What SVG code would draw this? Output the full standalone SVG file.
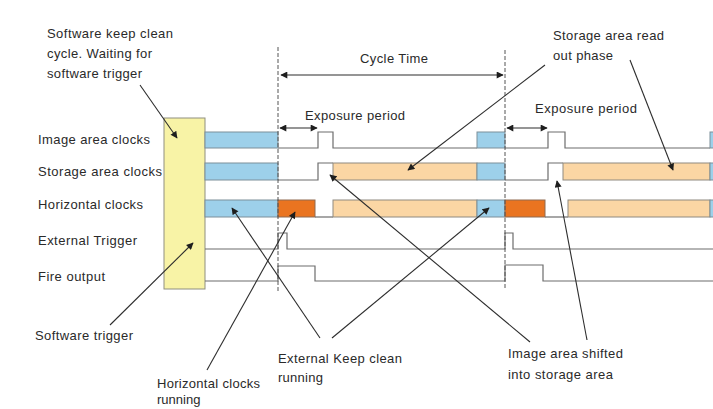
<svg xmlns="http://www.w3.org/2000/svg" width="713" height="409" viewBox="0 0 713 409">
<style>
text{font-family:"Liberation Sans",Arial,sans-serif;font-size:13px;fill:#2a2a2a}
.blue{fill:#9dd0ea;stroke:#7d8f9a;stroke-width:1}
.peach{fill:#fbd6a4;stroke:#8f8a80;stroke-width:1}
.orange{fill:#ea7420;stroke:#8f6a50;stroke-width:1}
.sig{fill:none;stroke:#6d6d6d;stroke-width:1.2}
.dash{fill:none;stroke:#555;stroke-width:1;stroke-dasharray:4,2}
.arr{fill:none;stroke:#2d2d2d;stroke-width:1.1;marker-end:url(#ah)}
.dim{fill:none;stroke:#2d2d2d;stroke-width:1.1;marker-start:url(#ah);marker-end:url(#ah)}
</style>
<defs>
<marker id="ah" viewBox="0 0 10 10" refX="9" refY="5" markerWidth="8" markerHeight="7" markerUnits="userSpaceOnUse" orient="auto-start-reverse">
<path d="M0,0 L10,5 L0,10 Z" fill="#1e1e1e"/>
</marker>
</defs>
<rect width="713" height="409" fill="#ffffff"/>

<g id="yellow-box">
<rect x="164" y="118" width="41" height="171" fill="#f8f3a6" stroke="#8f8f80" stroke-width="1"/>
</g>

<g id="row-labels">
<text x="38" y="143.5" textLength="112">Image area clocks</text>
<text x="38" y="175.5" textLength="124">Storage area clocks</text>
<text x="38" y="208.5" textLength="105">Horizontal clocks</text>
<text x="38" y="244.5" textLength="99">External Trigger</text>
<text x="38" y="280.5" textLength="67">Fire output</text>
</g>

<g id="label-sw-keep-clean">
<text x="47" y="38" textLength="126">Software keep clean</text>
<text x="47" y="58" textLength="105">cycle. Waiting for</text>
<text x="47" y="78" textLength="95">software trigger</text>
</g>

<g id="label-sw-trigger">
<text x="35" y="339.5" textLength="98">Software trigger</text>
</g>

<g id="label-cycle-time">
<text x="360" y="62.5" textLength="68">Cycle Time</text>
</g>

<g id="label-exposure-1">
<text x="305" y="119.5" textLength="100">Exposure period</text>
</g>

<g id="label-exposure-2">
<text x="535" y="112.5" textLength="102">Exposure period</text>
</g>

<g id="label-storage-readout">
<text x="553" y="39.5" textLength="111">Storage area read</text>
<text x="553" y="59.5" textLength="60">out phase</text>
</g>

<g id="label-horizontal-running">
<text x="157" y="388" textLength="103">Horizontal clocks</text>
<text x="157" y="404">running</text>
</g>

<g id="label-external-keep-clean">
<text x="278" y="362.5" textLength="124">External Keep clean</text>
<text x="278" y="381.5" textLength="45">running</text>
</g>

<g id="label-image-shifted">
<text x="508" y="357.5" textLength="115">Image area shifted</text>
<text x="508" y="378.5" textLength="105">into storage area</text>
</g>

<g id="row-image">
<rect class="blue" x="205" y="132" width="73" height="16"/>
<path class="sig" d="M278 148 H318 V132 H333 V148 H477"/>
<rect class="blue" x="477" y="132" width="28" height="16"/>
<path class="sig" d="M505 148 H548 V132 H565 V148 H710"/>
<rect class="blue" x="710" y="132" width="10" height="16"/>
</g>

<g id="row-storage">
<rect class="blue" x="205" y="163" width="73" height="17"/>
<path class="sig" d="M278 180 H318 V163 H333"/>
<rect class="peach" x="333" y="163" width="144" height="17"/>
<rect class="blue" x="477" y="163" width="28" height="17"/>
<path class="sig" d="M505 180 H548 V163 H563"/>
<rect class="peach" x="563" y="163" width="147" height="17"/>
<rect class="blue" x="710" y="163" width="10" height="17"/>
</g>

<g id="row-horizontal">
<rect class="blue" x="205" y="200" width="73" height="17"/>
<rect class="orange" x="278" y="200" width="37" height="17"/>
<path class="sig" d="M315 217 H333"/>
<rect class="peach" x="333" y="200" width="144" height="17"/>
<rect class="blue" x="477" y="200" width="28" height="17"/>
<rect class="orange" x="505" y="200" width="40" height="17"/>
<path class="sig" d="M545 217 H568"/>
<rect class="peach" x="568" y="200" width="142" height="17"/>
<rect class="blue" x="710" y="200" width="10" height="17"/>
</g>

<g id="row-external-trigger">
<path class="sig" d="M205 249 H278 V233 H287 V249 H505 V233 H513 V249 H713"/>
</g>

<g id="row-fire-output">
<path class="sig" d="M205 281 H278 V266 H315 V281 H505 V265 H543 V281 H713"/>
</g>

<g id="connectors">
<line class="dash" x1="278" y1="47" x2="278" y2="292"/>
<line class="dash" x1="505" y1="50" x2="505" y2="290"/>
<line class="dim" x1="281" y1="75" x2="503" y2="75"/>
<line class="dim" x1="280" y1="128" x2="317" y2="128"/>
<line class="dim" x1="507" y1="128" x2="547" y2="128"/>
<line class="arr" x1="140" y1="85" x2="177" y2="138"/>
<line class="arr" x1="110" y1="325" x2="193" y2="243"/>
<line class="arr" x1="207" y1="370" x2="295" y2="212"/>
<line class="arr" x1="320" y1="338" x2="232" y2="208"/>
<line class="arr" x1="332" y1="338" x2="489" y2="208"/>
<line class="arr" x1="530" y1="342" x2="330" y2="175"/>
<line class="arr" x1="587" y1="340" x2="557" y2="181"/>
<line class="arr" x1="545" y1="65" x2="408" y2="170"/>
<line class="arr" x1="630" y1="60" x2="673" y2="170"/>
</g>
</svg>
